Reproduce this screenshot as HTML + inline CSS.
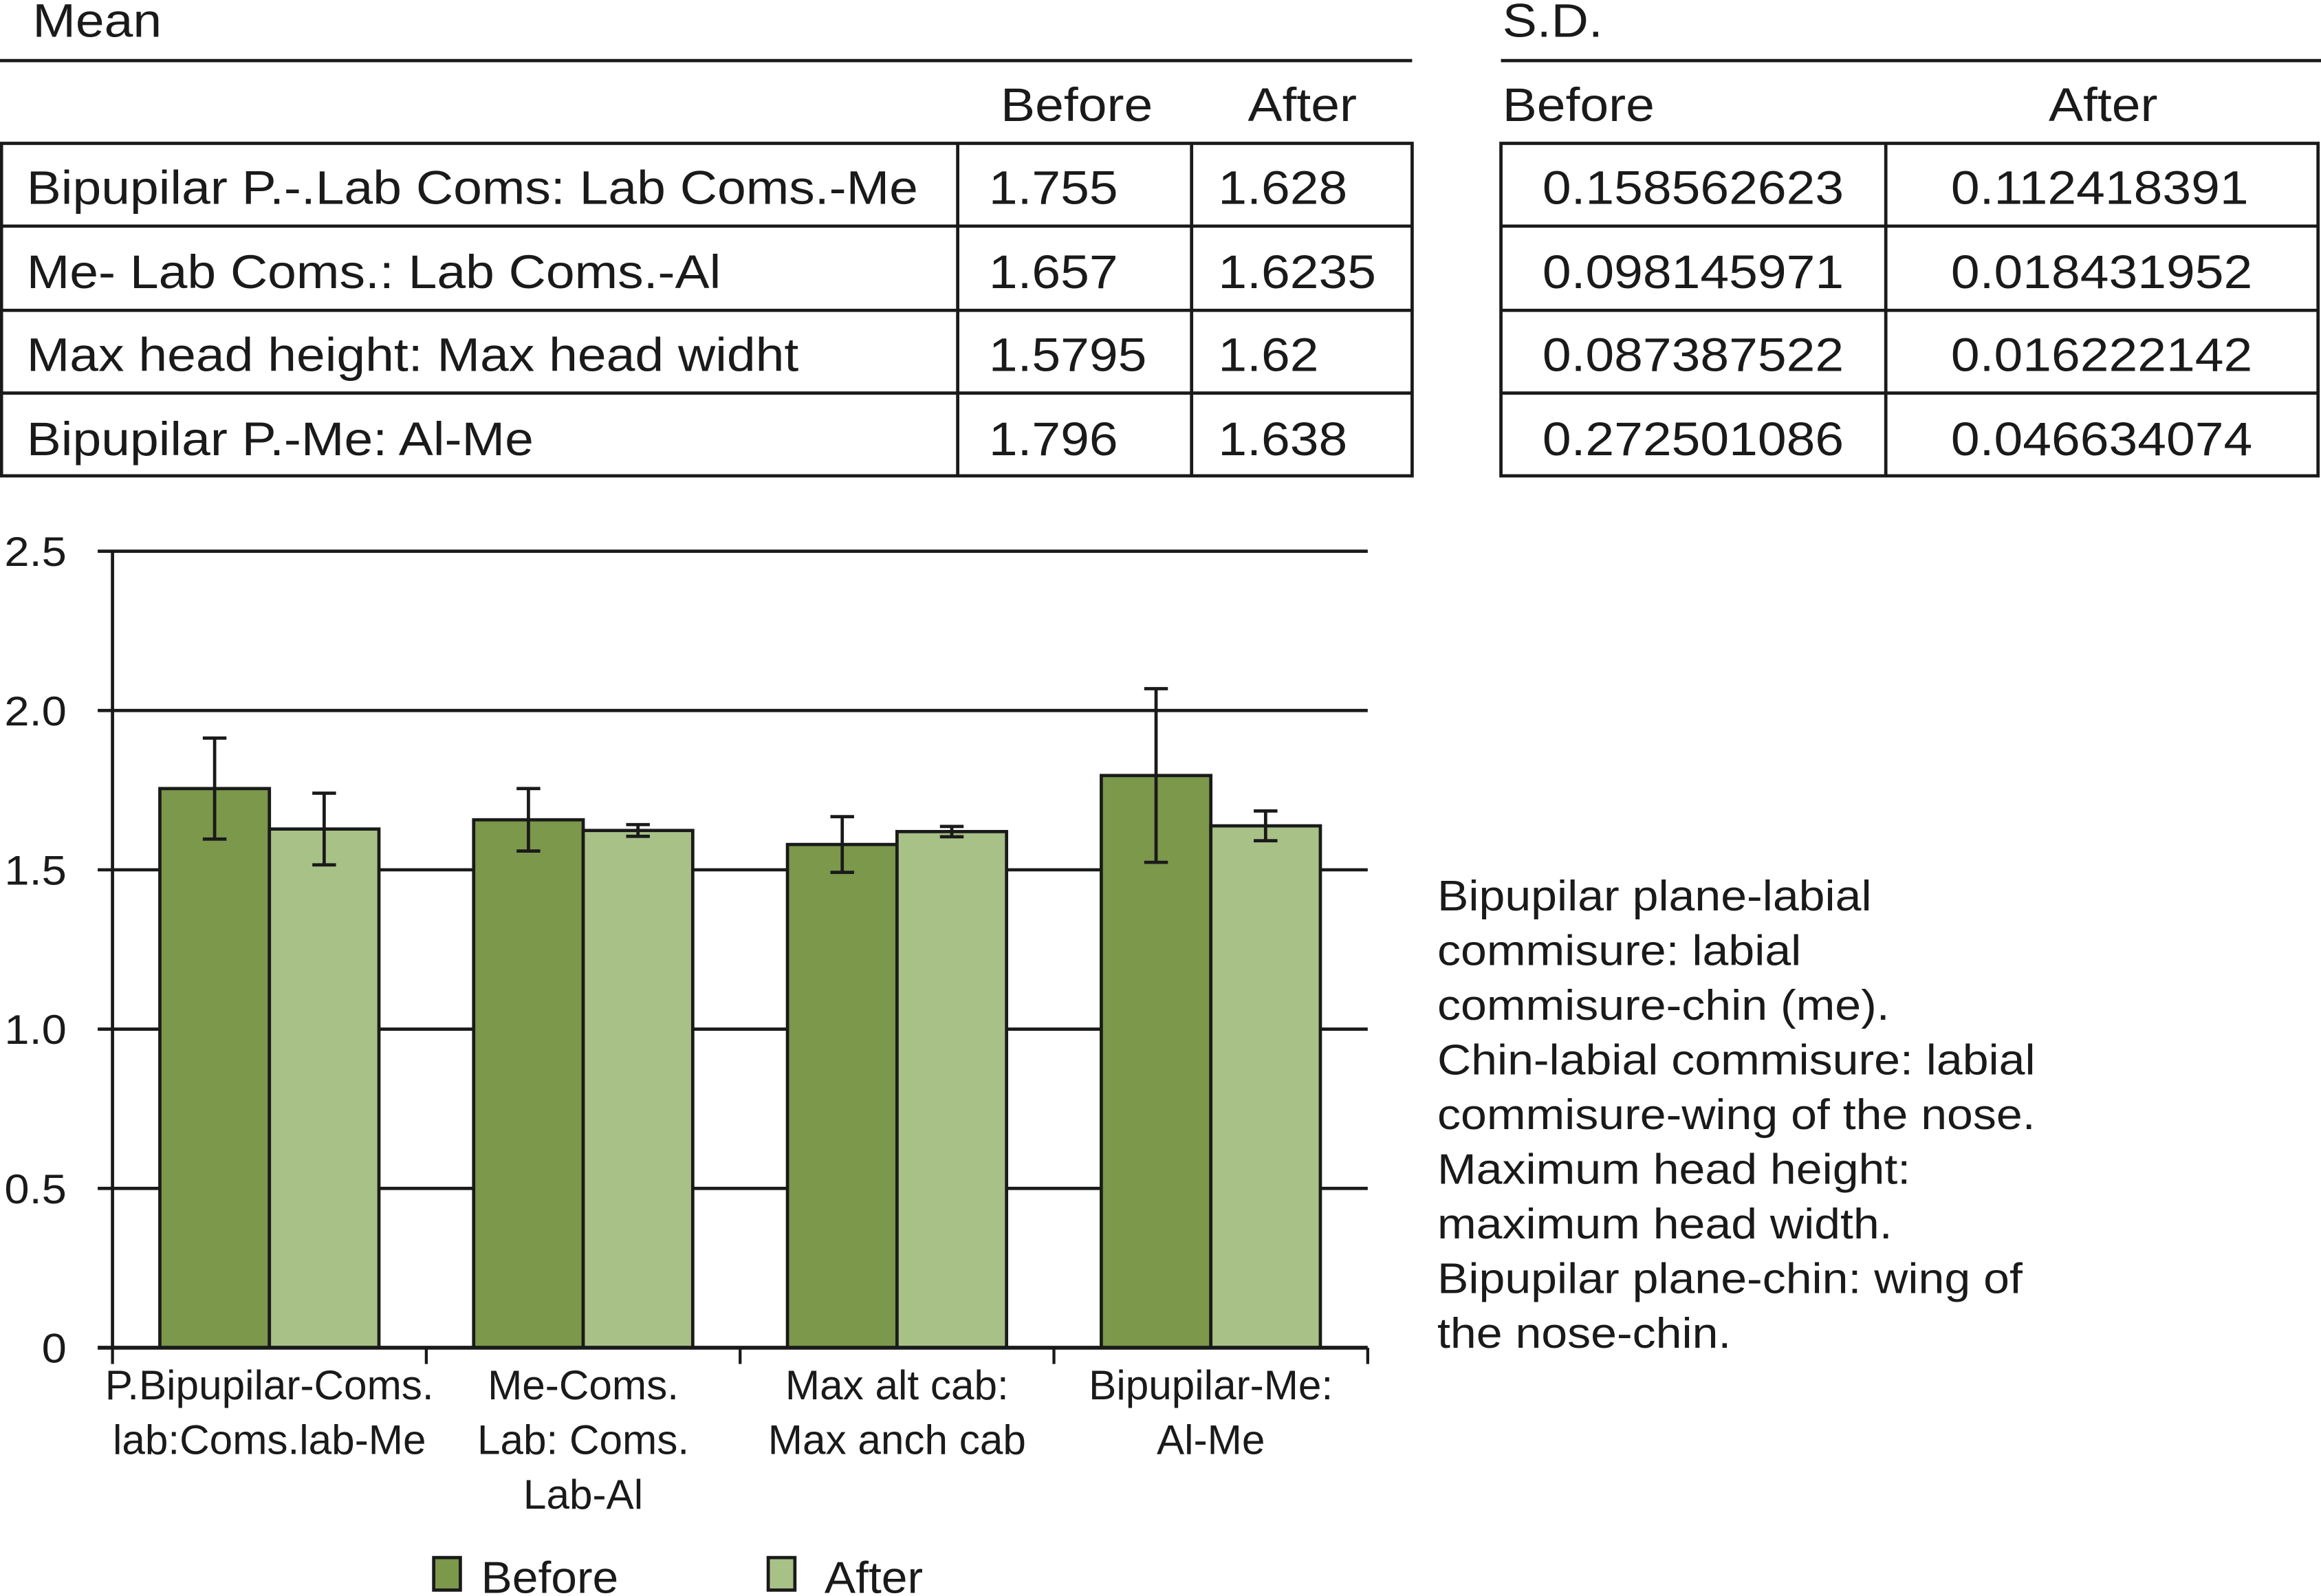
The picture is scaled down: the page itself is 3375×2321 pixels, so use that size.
<!DOCTYPE html>
<html><head><meta charset="utf-8"><style>
html,body{margin:0;padding:0;background:#fff;}
svg{display:block;}
text{font-family:"Liberation Sans",Arial,sans-serif;fill:#1a1a1a;}
</style></head><body>
<svg id="fig" width="3375" height="2321" viewBox="0 0 1568 1080" preserveAspectRatio="none" xmlns="http://www.w3.org/2000/svg">
<g stroke="#1a1a1a" stroke-width="2.2" fill="none">
  <line x1="0" y1="41" x2="954" y2="41"/>
  <rect x="1" y="97" width="953" height="225"/>
  <line x1="1" y1="153" x2="954" y2="153"/><line x1="1" y1="210" x2="954" y2="210"/><line x1="1" y1="266" x2="954" y2="266"/>
  <line x1="647" y1="97" x2="647" y2="322"/><line x1="805" y1="97" x2="805" y2="322"/>
</g>
<g stroke="#1a1a1a" stroke-width="2.2" fill="none">
  <line x1="1014" y1="41" x2="1568" y2="41"/>
  <rect x="1014" y="97" width="552" height="225"/>
  <line x1="1014" y1="153" x2="1566" y2="153"/><line x1="1014" y1="210" x2="1566" y2="210"/><line x1="1014" y1="266" x2="1566" y2="266"/>
  <line x1="1274" y1="97" x2="1274" y2="322"/>
</g>
<g font-size="32" class="st">
  <text x="22" y="25">Mean</text>
  <text x="1015" y="25">S.D.</text>
  <text x="676" y="82">Before</text>
  <text x="843" y="82">After</text>
  <text x="1015" y="82">Before</text>
  <text x="1384" y="82">After</text>
  <text x="18" y="138">Bipupilar P.-.Lab Coms: Lab Coms.-Me</text>
  <text x="18" y="195">Me- Lab Coms.: Lab Coms.-Al</text>
  <text x="18" y="251">Max head height: Max head widht</text>
  <text x="18" y="308">Bipupilar P.-Me: Al-Me</text>
  <text x="668" y="138">1.755</text><text x="823" y="138">1.628</text>
  <text x="668" y="195">1.657</text><text x="823" y="195">1.6235</text>
  <text x="668" y="251">1.5795</text><text x="823" y="251">1.62</text>
  <text x="668" y="308">1.796</text><text x="823" y="308">1.638</text>
  <text x="1042" y="138">0.158562623</text><text x="1318" y="138">0.112418391</text>
  <text x="1042" y="195">0.098145971</text><text x="1318" y="195">0.018431952</text>
  <text x="1042" y="251">0.087387522</text><text x="1318" y="251">0.016222142</text>
  <text x="1042" y="308">0.272501086</text><text x="1318" y="308">0.046634074</text>
</g>
<g id="chart"></g>
<g font-size="29" class="st">
  <text x="971" y="616">Bipupilar plane-labial</text>
  <text x="971" y="653">commisure: labial</text>
  <text x="971" y="690">commisure-chin (me).</text>
  <text x="971" y="727">Chin-labial commisure: labial</text>
  <text x="971" y="764">commisure-wing of the nose.</text>
  <text x="971" y="801">Maximum head height:</text>
  <text x="971" y="838">maximum head width.</text>
  <text x="971" y="875">Bipupilar plane-chin: wing of</text>
  <text x="971" y="912">the nose-chin.</text>
</g>
<g>
  <rect x="293" y="1054" width="18" height="22" fill="#7b984b" stroke="#1a1a1a" stroke-width="2.2"/>
  <text class="st1" x="325" y="1078" font-size="30">Before</text>
  <rect x="519" y="1054" width="18" height="22" fill="#a8c187" stroke="#1a1a1a" stroke-width="2.2"/>
  <text class="st1" x="557" y="1078" font-size="30">After</text>
</g>
</svg>
<script>
const categories=[["P.Bipupilar-Coms.","lab:Coms.lab-Me"],["Me-Coms.","Lab: Coms.","Lab-Al"],["Max alt cab:","Max anch cab"],["Bipupilar-Me:","Al-Me"]];
const beforeVals=[1.755,1.657,1.5795,1.796];
const afterVals=[1.628,1.6235,1.62,1.638];
const beforeSD=[0.158562623,0.098145971,0.087387522,0.272501086];
const afterSD=[0.112418391,0.018431952,0.016222142,0.046634074];
const yTicks=[0,0.5,1.0,1.5,2.0,2.5];
const yTickLabels=["0","0.5","1.0","1.5","2.0","2.5"];
const NS="http://www.w3.org/2000/svg";
const g=document.getElementById('chart');
const X0=76,X1=924,Y0=912,Y1=373,YMAX=2.5;
const y=v=>Y0-(v/YMAX)*(Y0-Y1);
const bw=(X1-X0)/categories.length;
const barW=74;
function stretch(el,s){const x=+el.getAttribute('x');el.setAttribute('transform',`translate(${x} 0) scale(${s} 1) translate(${-x} 0)`);}
function mk(t,a){const e=document.createElementNS(NS,t);for(const k in a)e.setAttribute(k,a[k]);g.appendChild(e);return e;}
yTicks.forEach((v,i)=>{
  if(v>0){const l=mk('line',{x1:X0-10,y1:y(v),x2:X1,y2:y(v),stroke:'#1a1a1a','stroke-width':2.2});
  
  }
  const t=mk('text',{x:45,y:y(v)+10,'font-size':28,'text-anchor':'end'});
  t.textContent=yTickLabels[i];
  
  
  stretch(t,1.08);
});
categories.forEach((c,i)=>{
  const cx=X0+bw*(i+0.5);
  [[beforeVals,beforeSD,'#7b984b',cx-barW,'bar-before'],[afterVals,afterSD,'#a8c187',cx,'bar-after']].forEach(([vals,sd,col,bx,nm])=>{
    const r=mk('rect',{x:bx,y:y(vals[i]),width:barW,height:Y0-y(vals[i]),fill:col,stroke:'#1a1a1a','stroke-width':2.2});
    
    
    const ex=bx+barW/2,t=y(vals[i]+sd[i]),b=y(vals[i]-sd[i]);
    const e=mk('path',{d:`M${ex},${t}V${b}M${ex-8},${t}H${ex+8}M${ex-8},${b}H${ex+8}`,stroke:'#1a1a1a','stroke-width':2.2,fill:'none'});
    
    
  });
  c.forEach((line,j)=>{
    const t=mk('text',{x:cx,y:947+j*37,'font-size':28,'text-anchor':'middle'});
    t.textContent=line;
    
    
  });
});
for(let i=0;i<=categories.length;i++){
  const l=mk('line',{x1:X0+bw*i,y1:Y0,x2:X0+bw*i,y2:Y0+11,stroke:'#1a1a1a','stroke-width':2});
  
  
}
const ya=mk('line',{x1:X0,y1:Y1,x2:X0,y2:Y0,stroke:'#1a1a1a','stroke-width':2.2});


const xa=mk('line',{x1:X0-10,y1:Y0,x2:X1,y2:Y0,stroke:'#1a1a1a','stroke-width':2.6});


document.querySelectorAll('.st text').forEach(t=>stretch(t,1.09));
document.querySelectorAll('text.st1').forEach(t=>stretch(t,1.05));
</script>
</body></html>
